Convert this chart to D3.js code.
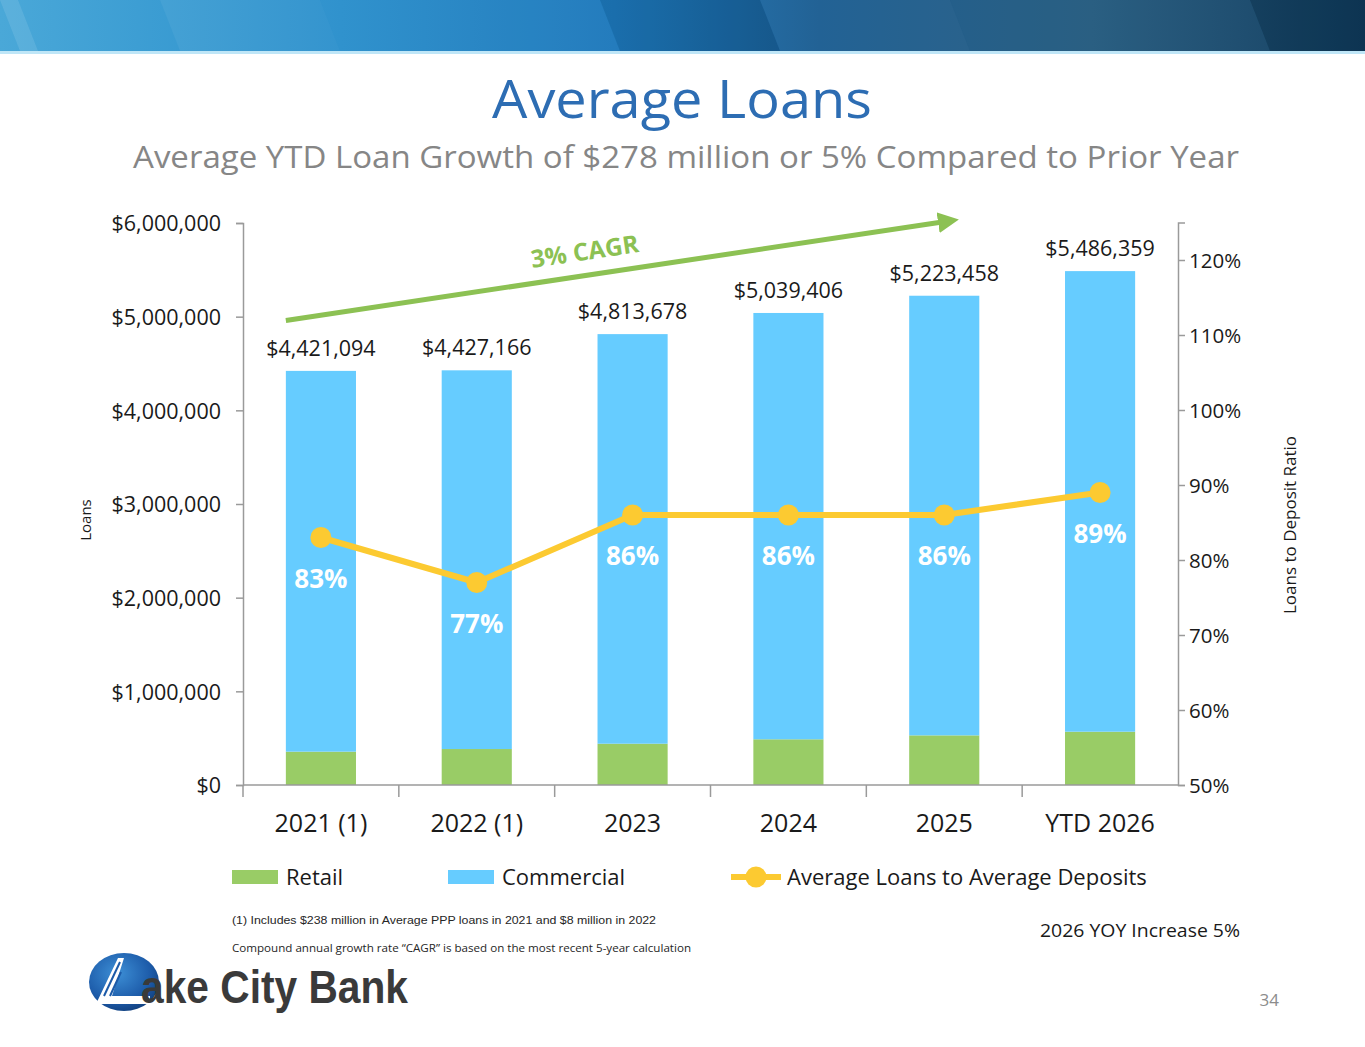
<!DOCTYPE html>
<html>
<head>
<meta charset="utf-8">
<script src="https://cdn.jsdelivr.net/npm/d3@7"></script>
<style>
  body { margin: 0; background: #fff; }
  svg text { font-family: "Open Sans", sans-serif; }
</style>
</head>
<body>
<script>
"use strict";

const width = 1365;
const height = 1047;

// chart data
const categories = ["2021 (1)", "2022 (1)", "2023", "2024", "2025", "YTD 2026"];
const totals = [4421094, 4427166, 4813678, 5039406, 5223458, 5486359];
const retail = [356000, 384000, 441000, 488000, 530000, 569000];
const commercial = [4065094, 4043166, 4372678, 4551406, 4693458, 4917359];
const ratio = [0.83, 0.77, 0.86, 0.86, 0.86, 0.89];
const leftTicks = [0, 1000000, 2000000, 3000000, 4000000, 5000000, 6000000];
const rightTicks = [0.5, 0.6, 0.7, 0.8, 0.9, 1.0, 1.1, 1.2];
const seriesNames = ["Retail", "Commercial", "Average Loans to Average Deposits"];
const cagrStart = 4960000;
const cagrEnd = 6030000;

const colors = { retail: "#99cc66", commercial: "#66ccff", line: "#fcca31", axis: "#9a9a9a" };

let svg = d3.select("body").append("svg")
    .attr("width", width)
    .attr("height", height);

let defs = svg.append("defs");

// header band
let grad = defs.append("linearGradient").attr("id", "hdr");
grad.append("stop").attr("offset", "0%").attr("stop-color", "#4aa8d8");
grad.append("stop").attr("offset", "25%").attr("stop-color", "#2a8fcc");
grad.append("stop").attr("offset", "45%").attr("stop-color", "#1d78bb");
grad.append("stop").attr("offset", "60%").attr("stop-color", "#175a90");
grad.append("stop").attr("offset", "80%").attr("stop-color", "#245a7e");
grad.append("stop").attr("offset", "100%").attr("stop-color", "#0f3c5e");

svg.append("rect").attr("x", 0).attr("y", 0).attr("width", width).attr("height", 51)
    .attr("fill", "url(#hdr)");

// diagonal stripes on header: [top-left x, top-right x, opacity (+ light / - dark)]
const stripes = [[0, 18, 0.10], [160, 320, 0.05], [320, 600, 0.03], [600, 760, -0.08], [760, 950, 0.05], [950, 1250, 0.03], [1250, 1365, -0.12]];
stripes.forEach(function(s) {
  svg.append("path")
    .attr("d", "M" + s[0] + ",0 L" + s[1] + ",0 L" + (s[1] + 20) + ",51 L" + (s[0] + 20) + ",51 Z")
    .attr("fill", s[2] > 0 ? "#ffffff" : "#000000")
    .attr("opacity", Math.abs(s[2]));
});
svg.append("rect").attr("x", 0).attr("y", 51).attr("width", width).attr("height", 3)
    .attr("fill", "#bfe6f7");

// titles
svg.append("text")
    .attr("x", 682).attr("y", 118)
    .attr("text-anchor", "middle")
    .attr("font-size", 53)
    .attr("fill", "#2d6db3")
    .attr("textLength", 380)
    .attr("lengthAdjust", "spacingAndGlyphs")
    .text("Average Loans");

svg.append("text")
    .attr("x", 686).attr("y", 168)
    .attr("text-anchor", "middle")
    .attr("font-size", 31)
    .attr("fill", "#868686")
    .attr("textLength", 1106)
    .attr("lengthAdjust", "spacingAndGlyphs")
    .text("Average YTD Loan Growth of $278 million or 5% Compared to Prior Year");

// scales
let x = d3.scaleBand()
    .domain(categories)
    .range([243, 1178])
    .paddingInner(0.55)
    .paddingOuter(0.275);

let y = d3.scaleLinear()
    .domain([0, 6000000])
    .range([785, 223]);

let y2 = d3.scaleLinear()
    .domain([0.5, 1.25])
    .range([785, 222.5]);

let rows = categories.map(function(c, i) {
  return { cat: c, retail: retail[i], commercial: commercial[i], total: totals[i], ratio: ratio[i] };
});

let stack = d3.stack().keys(["retail", "commercial"])(rows);

// bars
svg.append("g").selectAll("g")
    .data(stack)
    .enter().append("g")
    .attr("fill", function(d) { return colors[d.key]; })
    .selectAll("rect")
    .data(function(d) { return d; })
    .enter().append("rect")
    .attr("x", function(d) { return x(d.data.cat); })
    .attr("y", function(d) { return y(d[1]); })
    .attr("width", x.bandwidth())
    .attr("height", function(d) { return y(d[0]) - y(d[1]); });

// axes
let leftAxis = svg.append("g")
    .attr("transform", "translate(243,0)")
    .call(d3.axisLeft(y).tickValues(leftTicks).tickSize(7).tickPadding(15)
      .tickFormat(function(d) { return "$" + d3.format(",")(d); }));

let rightAxis = svg.append("g")
    .attr("transform", "translate(1178,0)")
    .call(d3.axisRight(y2).tickValues(rightTicks).tickSize(7).tickPadding(4)
      .tickFormat(d3.format(".0%")));

let bottomAxis = svg.append("g")
    .attr("transform", "translate(0,785)")
    .call(d3.axisBottom(x).tickSize(0).tickPadding(29));

[leftAxis, rightAxis, bottomAxis].forEach(function(a) {
  a.select(".domain").attr("stroke", colors.axis).attr("stroke-width", 1.5);
  a.selectAll(".tick line").attr("stroke", colors.axis).attr("stroke-width", 1.5);
  a.selectAll("text").attr("fill", "#1a1a1a").style("font-family", "'Open Sans', sans-serif");
});
leftAxis.selectAll("text").attr("font-size", 21.5).attr("dy", "0.36em");
rightAxis.selectAll("text").attr("font-size", 20.5).attr("dy", "0.36em");
bottomAxis.selectAll("text").attr("font-size", 25);
// bottom domain spans right axis line
bottomAxis.select(".domain").attr("d", "M243,0H1178");

// category boundary ticks
svg.append("g").selectAll("line")
    .data(categories)
    .enter().append("line")
    .attr("x1", function(d) { return x(d) - x.step() * x.paddingInner() / 2; })
    .attr("x2", function(d) { return x(d) - x.step() * x.paddingInner() / 2; })
    .attr("y1", 785).attr("y2", 797)
    .attr("stroke", colors.axis).attr("stroke-width", 1.5);

// axis titles
svg.append("text")
    .attr("transform", "translate(91,520) rotate(-90)")
    .attr("text-anchor", "middle")
    .attr("font-size", 15)
    .attr("fill", "#1a1a1a")
    .text("Loans");

svg.append("text")
    .attr("transform", "translate(1296,525) rotate(-90)")
    .attr("text-anchor", "middle")
    .attr("font-size", 15.5)
    .attr("fill", "#1a1a1a")
    .attr("textLength", 178)
    .attr("lengthAdjust", "spacingAndGlyphs")
    .text("Loans to Deposit Ratio");

// total labels
svg.append("g").selectAll("text")
    .data(rows)
    .enter().append("text")
    .attr("x", function(d) { return x(d.cat) + x.bandwidth() / 2; })
    .attr("y", function(d) { return y(d.total) - 15; })
    .attr("text-anchor", "middle")
    .attr("font-size", 21.5)
    .attr("fill", "#1a1a1a")
    .text(function(d) { return "$" + d3.format(",")(d.total); });

// ratio line
let cx = function(d) { return x(d.cat) + x.bandwidth() / 2; };
let line = d3.line()
    .x(cx)
    .y(function(d) { return y2(d.ratio); });

svg.append("path")
    .datum(rows)
    .attr("d", line)
    .attr("fill", "none")
    .attr("stroke", colors.line)
    .attr("stroke-width", 6)
    .attr("stroke-linejoin", "round");

svg.append("g").selectAll("circle")
    .data(rows)
    .enter().append("circle")
    .attr("cx", cx)
    .attr("cy", function(d) { return y2(d.ratio); })
    .attr("r", 10.5)
    .attr("fill", colors.line);

svg.append("g").selectAll("text")
    .data(rows)
    .enter().append("text")
    .attr("x", cx)
    .attr("y", function(d) { return y2(d.ratio) + 50; })
    .attr("text-anchor", "middle")
    .attr("font-size", 26)
    .attr("font-weight", "bold")
    .attr("fill", "#ffffff")
    .text(function(d) { return d3.format(".0%")(d.ratio); });

// CAGR arrow
let ax1 = x(categories[0]);
let ay1 = y(cagrStart);
let ax2 = x(categories[4]) + x.bandwidth() / 2 + 10;
let ay2 = y(cagrEnd);
defs.append("marker")
    .attr("id", "arrow")
    .attr("viewBox", "0 0 10 10")
    .attr("refX", 2).attr("refY", 5)
    .attr("markerWidth", 4.2).attr("markerHeight", 4.2)
    .attr("orient", "auto")
    .append("path").attr("d", "M0,0 L10,5 L0,10 Z").attr("fill", "#8cc153");

svg.append("line")
    .attr("x1", ax1).attr("y1", ay1)
    .attr("x2", ax2 - 12).attr("y2", ay2 + 12 * (ay1 - ay2) / (ax2 - ax1))
    .attr("stroke", "#8cc153")
    .attr("stroke-width", 5)
    .attr("marker-end", "url(#arrow)");

let ang = Math.atan2(ay2 - ay1, ax2 - ax1) * 180 / Math.PI;
svg.append("text")
    .attr("transform", "translate(586,260) rotate(" + ang + ")")
    .attr("text-anchor", "middle")
    .attr("font-size", 24.5)
    .attr("font-weight", "bold")
    .attr("fill", "#8cc153")
    .text("3% CAGR");

// legend
let legend = svg.append("g").attr("transform", "translate(0,877)");
legend.append("rect").attr("x", 232).attr("y", -7).attr("width", 46).attr("height", 14).attr("fill", colors.retail);
legend.append("rect").attr("x", 448).attr("y", -7).attr("width", 46).attr("height", 14).attr("fill", colors.commercial);
legend.append("line").attr("x1", 731).attr("x2", 781).attr("y1", 0).attr("y2", 0)
    .attr("stroke", colors.line).attr("stroke-width", 6);
legend.append("circle").attr("cx", 756).attr("cy", 0).attr("r", 10.5).attr("fill", colors.line);
const legendX = [286, 502, 787];
legend.selectAll("text.lbl")
    .data(seriesNames)
    .enter().append("text")
    .attr("class", "lbl")
    .attr("x", function(d, i) { return legendX[i]; })
    .attr("y", 8)
    .attr("font-size", 22)
    .attr("fill", "#1a1a1a")
    .text(function(d) { return d; });

// footnotes
svg.append("text")
    .attr("x", 232).attr("y", 924)
    .attr("font-size", 11.5)
    .attr("fill", "#262626")
    .style("font-family", "'Liberation Sans Narrow', 'Liberation Sans', Arial, sans-serif")
    .attr("textLength", 424)
    .attr("lengthAdjust", "spacingAndGlyphs")
    .text("(1) Includes $238 million in Average PPP loans in 2021 and $8 million in 2022");

svg.append("text")
    .attr("x", 232).attr("y", 952)
    .attr("font-size", 11)
    .attr("fill", "#262626")
    .attr("textLength", 459)
    .attr("lengthAdjust", "spacingAndGlyphs")
    .text("Compound annual growth rate \u201CCAGR\u201D is based on the most recent 5-year calculation");

svg.append("text")
    .attr("x", 1240).attr("y", 937)
    .attr("text-anchor", "end")
    .attr("font-size", 17.5)
    .attr("fill", "#1a1a1a")
    .attr("textLength", 200)
    .attr("lengthAdjust", "spacingAndGlyphs")
    .text("2026 YOY Increase 5%");

// logo
let logoGrad = defs.append("radialGradient").attr("id", "logoG").attr("cx", "40%").attr("cy", "35%").attr("r", "70%");
logoGrad.append("stop").attr("offset", "0%").attr("stop-color", "#3d8fd6");
logoGrad.append("stop").attr("offset", "70%").attr("stop-color", "#1c5aa8");
logoGrad.append("stop").attr("offset", "100%").attr("stop-color", "#123f7c");

let logo = svg.append("g");
logo.append("ellipse").attr("cx", 124).attr("cy", 982).attr("rx", 35).attr("ry", 29).attr("fill", "url(#logoG)");
logo.append("path").attr("d", "M96,1004 L118,958 L124,958 L112,996 L150,996 L150,1004 Z").attr("fill", "#ffffff");
logo.append("path").attr("d", "M104,996 L120,962").attr("stroke", "#1c5aa8").attr("stroke-width", 2);
logo.append("path").attr("d", "M110,996 L121,972").attr("stroke", "#1c5aa8").attr("stroke-width", 2);
logo.append("text")
    .attr("x", 141).attr("y", 1003)
    .attr("font-size", 46)
    .attr("font-weight", "bold")
    .attr("fill", "#3a3a3a")
    .style("font-family", "'Liberation Sans', Arial, sans-serif")
    .attr("textLength", 267)
    .attr("lengthAdjust", "spacingAndGlyphs")
    .text("ake City Bank");

// page number
svg.append("text")
    .attr("x", 1279).attr("y", 1006)
    .attr("text-anchor", "end")
    .attr("font-size", 17)
    .attr("fill", "#8c8c8c")
    .text("34");
</script>
</body>
</html>
